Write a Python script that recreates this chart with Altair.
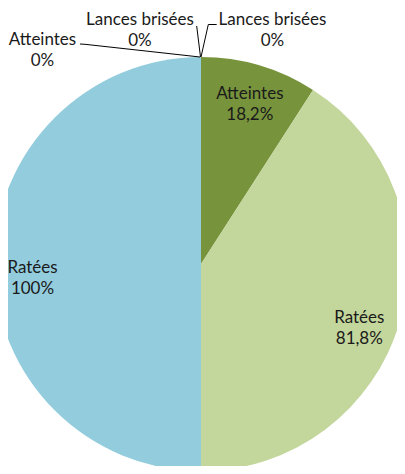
import altair as alt
import pandas as pd

# ---- data ----
series = ["Droite", "Droite", "Droite", "Gauche", "Gauche", "Gauche"]
categories = ["Lances brisées", "Atteintes", "Ratées", "Ratées", "Atteintes", "Lances brisées"]
values = [0.0, 18.2, 81.8, 100.0, 0.0, 0.0]
value_labels = ["0%", "18,2%", "81,8%", "100%", "0%", "0%"]

# ---- styles ----
slice_colors = ["#77933C", "#77933C", "#C3D69B", "#93CDDD", "#93CDDD", "#93CDDD"]
FONT = "Lato"
FS = 17
LH = 21
TXT = "#1a1a1a"

df = pd.DataFrame({
    "slice": [f"{s} - {c}" for s, c in zip(series, categories)],
    "cat": categories,
    "value": values,
    "label": value_labels,
    "order": list(range(len(values))),
})
df["end"] = df["value"].cumsum()
df["start"] = df["end"] - df["value"]
df["mid"] = (df["start"] + df["end"]) / 2
df["text"] = df["cat"] + "\n" + df["label"]
total = float(df["value"].sum())

CX, CY, R = 193, 256, 207
theta_scale = alt.Scale(domain=[0, total])

pie = alt.Chart(df).mark_arc(outerRadius=R).encode(
    theta=alt.Theta("start:Q", scale=theta_scale),
    theta2="end:Q",
    color=alt.Color("slice:N", scale=alt.Scale(domain=list(df["slice"]), range=slice_colors), legend=None),
    x=alt.value(CX),
    y=alt.value(CY),
)

# label placement: (order, radius, dx, dy) ; dy shifted by half a line for 2-line blocks
half = LH / 2
label_layout = [
    (1, 166, 2, 0 - half),
    (2, 165, 0, 17.5 - half),
    (3, 177.5, 9, 14 - half),
    (0, R, 71.5, -26.5 - half),
    (4, R, -158.5, -6.5 - half),
    (5, R, -61, -26.5 - half),
]
layers = [pie]
for idx, rad, ddx, ddy in label_layout:
    layers.append(
        alt.Chart(df).transform_filter(alt.datum.order == idx).mark_text(
            radius=rad, dx=ddx, dy=ddy, lineBreak="\n", lineHeight=LH,
            font=FONT, fontSize=FS, color=TXT, align="center", baseline="middle",
        ).encode(
            theta=alt.Theta("mid:Q", scale=theta_scale),
            text="text:N",
            x=alt.value(CX),
            y=alt.value(CY),
        )
    )

# leader lines for the 0% labels
top_y = CY - R
segments = [
    (72, 36, 77, 36.3),
    (77, 36.3, CX - 1, top_y),
    (188.7, 18, CX - 0.5, top_y),
    (208.7, 16.5, 200.3, 16.5),
    (200.3, 16.5, CX, top_y),
]
one = pd.DataFrame({"k": [0]})
for x1, y1, x2, y2 in segments:
    layers.append(
        alt.Chart(one).mark_rule(color="black", strokeWidth=1).encode(
            x=alt.value(x1), y=alt.value(y1), x2=alt.value(x2), y2=alt.value(y2)
        )
    )

chart = alt.layer(*layers).properties(
    width=389, height=458, padding=0, autosize=alt.AutoSizeParams(type="none")
).configure_view(stroke=None)

chart.save("out.html", embed_options={"renderer": "svg", "actions": False})
